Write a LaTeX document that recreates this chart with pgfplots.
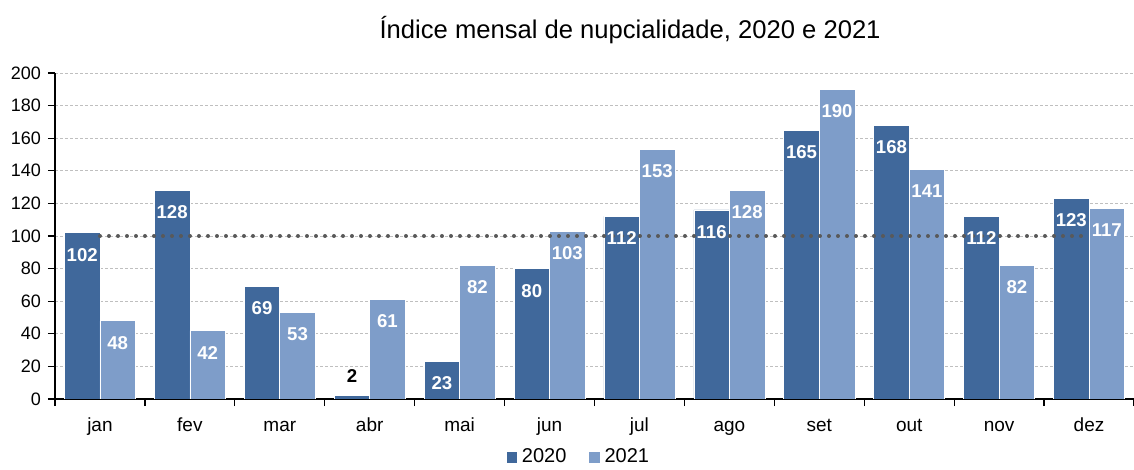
\documentclass[border=0pt]{standalone}
\usepackage{pgfplots}
\pgfplotsset{compat=1.18}
\usepackage{fontspec}
\setmainfont{Liberation Sans}
\definecolor{darkbar}{HTML}{40689B}
\definecolor{lightbar}{HTML}{7E9DC9}
\definecolor{dotgray}{HTML}{595959}
\begin{document}
\begin{tikzpicture}
\begin{axis}[
  at={(0,0)}, anchor=south west,
  scale only axis,
  width=539.5pt, height=163pt,
  xmin=-0.5, xmax=11.5,
  ymin=0, ymax=200,
  ytick={0,20,...,200},
  xtick={0,...,11},
  xticklabels={jan,fev,mar,abr,mai,jun,jul,ago,set,out,nov,dez},
  minor xtick={-0.5,0.5,...,11.5},
  major x tick style={draw=none},
  axis x line*=bottom, axis y line*=left,
  axis line style={black, line width=0.7pt, -},
  tick align=outside,
  major tick length=3.5pt, minor tick length=3.5pt,
  tick style={black, line width=0.6pt},
  ymajorgrids,
  grid style={gray!50, dash pattern=on 1.5pt off 1pt, line width=0.4pt},
  /pgf/number format/assume math mode=true,
  yticklabel style={font=\fontsize{9}{10}\selectfont},
  xticklabel style={font=\fontsize{9.5}{10}\selectfont, text height=7pt, text depth=2pt, anchor=north, yshift=-2pt},
  ybar=0pt, bar width=0.395,
  title={Índice mensal de nupcialidade, 2020 e 2021},
  title style={at={(0.533,1)}, anchor=center, yshift=15.5pt, font=\fontsize{12.8}{14}\selectfont},
  legend style={at={(0.486,0)}, anchor=center, yshift=-29pt, draw=none, fill=none,
    font=\fontsize{10}{11}\selectfont, legend columns=2,
    /tikz/every even column/.append style={column sep=9pt}},
  legend image code/.code={\fill[#1] (0pt,-3pt) rectangle (5.8pt,3pt);},
  nodes near coords,
  point meta=explicit symbolic,
  every node near coord/.append style={font=\bfseries\fontsize{9.3}{10}\selectfont, text=white, anchor=center, yshift=-11pt},
]
\addplot[fill=darkbar, draw=white, line width=0.3pt, bar shift=-0.1975]
  coordinates {(0,102)[102] (1,128)[128] (2,69)[69] (3,2)[] (4,23)[23] (5,80)[80] (6,112)[112] (7,116)[116] (8,165)[165] (9,168)[168] (10,112)[112] (11,123)[123]};
\addlegendentry{2020}
\addplot[fill=lightbar, draw=white, line width=0.3pt, bar shift=0.1975]
  coordinates {(0,48)[48] (1,42)[42] (2,53)[53] (3,61)[61] (4,82)[82] (5,103)[103] (6,153)[153] (7,128)[128] (8,190)[190] (9,141)[141] (10,82)[82] (11,117)[117]};
\addlegendentry{2021}
\addplot[fill=darkbar, draw=white, line width=0.3pt, bar shift=-0.1975, forget plot,
  every node near coord/.append style={text=black, yshift=21pt}]
  coordinates {(3,2)[2]};
\addplot[sharp plot, no markers, draw=dotgray, line width=2pt, line cap=round,
  dash pattern=on 0pt off 4.5pt, nodes near coords={}, forget plot]
  coordinates {(0,100)[] (1,100)[] (2,100)[] (3,100)[] (4,100)[] (5,100)[] (6,100)[] (7,100)[] (8,100)[] (9,100)[] (10,100)[] (11,100)[]};
\end{axis}
\pgfresetboundingbox
\path[use as bounding box] (-27.5pt,-35.5pt) rectangle (539.5pt,199.5pt);
\end{tikzpicture}
\end{document}
